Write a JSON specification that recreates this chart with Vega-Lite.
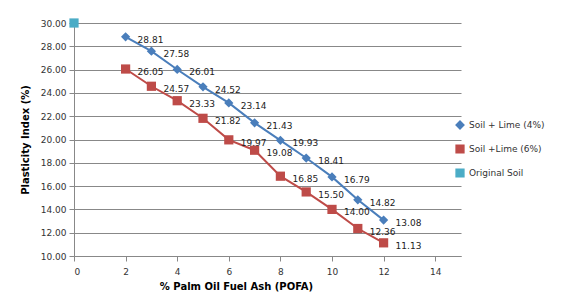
{
  "$schema": "https://vega.github.io/schema/vega-lite/v6.json",
  "width": 387,
  "height": 233,
  "autosize": {"type": "none"},
  "padding": {"left": 74, "top": 23, "right": 107, "bottom": 40},
  "background": "white",
  "config": {
    "view": {"stroke": null},
    "font": "DejaVu Sans",
    "axis": {"labelFont": "DejaVu Sans", "titleFont": "DejaVu Sans", "labelColor": "#333", "titleColor": "#000"}
  },
  "data": {
    "values": [
      {"series": "Soil + Lime (4%)", "x": 2, "y": 28.81},
      {"series": "Soil + Lime (4%)", "x": 3, "y": 27.58},
      {"series": "Soil + Lime (4%)", "x": 4, "y": 26.01},
      {"series": "Soil + Lime (4%)", "x": 5, "y": 24.52},
      {"series": "Soil + Lime (4%)", "x": 6, "y": 23.14},
      {"series": "Soil + Lime (4%)", "x": 7, "y": 21.43},
      {"series": "Soil + Lime (4%)", "x": 8, "y": 19.93},
      {"series": "Soil + Lime (4%)", "x": 9, "y": 18.41},
      {"series": "Soil + Lime (4%)", "x": 10, "y": 16.79},
      {"series": "Soil + Lime (4%)", "x": 11, "y": 14.82},
      {"series": "Soil + Lime (4%)", "x": 12, "y": 13.08},
      {"series": "Soil +Lime (6%)", "x": 2, "y": 26.05},
      {"series": "Soil +Lime (6%)", "x": 3, "y": 24.57},
      {"series": "Soil +Lime (6%)", "x": 4, "y": 23.33},
      {"series": "Soil +Lime (6%)", "x": 5, "y": 21.82},
      {"series": "Soil +Lime (6%)", "x": 6, "y": 19.97},
      {"series": "Soil +Lime (6%)", "x": 7, "y": 19.08},
      {"series": "Soil +Lime (6%)", "x": 8, "y": 16.85},
      {"series": "Soil +Lime (6%)", "x": 9, "y": 15.50},
      {"series": "Soil +Lime (6%)", "x": 10, "y": 14.00},
      {"series": "Soil +Lime (6%)", "x": 11, "y": 12.36},
      {"series": "Soil +Lime (6%)", "x": 12, "y": 11.13},
      {"series": "Original Soil", "x": 0, "y": 30.0}
    ]
  },
  "encoding": {
    "x": {
      "field": "x", "type": "quantitative",
      "scale": {"domain": [0, 15], "nice": false},
      "axis": {"values": [0, 2, 4, 6, 8, 10, 12, 14], "grid": false, "title": "% Palm Oil Fuel Ash (POFA)", "titleFontWeight": "bold", "titleFontSize": 10, "labelFontSize": 9, "domainColor": "#888", "tickColor": "#888", "tickSize": 5, "labelPadding": 6, "titlePadding": 5, "titleX": 162, "titleAnchor": "middle"}
    },
    "y": {
      "field": "y", "type": "quantitative",
      "scale": {"domain": [10, 30], "nice": false},
      "axis": {"values": [10, 12, 14, 16, 18, 20, 22, 24, 26, 28, 30], "format": ".2f", "title": "Plasticity Index (%)", "titleFontWeight": "bold", "titleFontSize": 10, "labelFontSize": 9, "gridColor": "#888", "gridWidth": 1, "domainColor": "#888", "tickColor": "#888", "tickSize": 5, "labelPadding": 3, "titlePadding": 10}
    },
    "color": {
      "field": "series", "type": "nominal",
      "scale": {"domain": ["Soil + Lime (4%)", "Soil +Lime (6%)", "Original Soil"], "range": ["#4A7EBB", "#BE4B48", "#4BACC6"]},
      "legend": {"title": null, "orient": "none", "legendX": 381, "legendY": 97, "labelFontSize": 9, "labelColor": "#333", "rowPadding": 10, "symbolSize": 60}
    },
    "shape": {
      "field": "series", "type": "nominal",
      "scale": {"domain": ["Soil + Lime (4%)", "Soil +Lime (6%)", "Original Soil"], "range": ["diamond", "square", "square"]},
      "legend": {"title": null, "orient": "none", "legendX": 381, "legendY": 97, "labelFontSize": 9, "labelColor": "#333", "rowPadding": 10, "symbolSize": 60}
    }
  },
  "layer": [
    {"mark": {"type": "line", "strokeWidth": 2}, "encoding": {"shape": {"value": null}}},
    {"mark": {"type": "point", "filled": true, "opacity": 1, "size": 85}},
    {
      "transform": [{"filter": "datum.series !== 'Original Soil'"}],
      "mark": {"type": "text", "align": "left", "dx": 12, "dy": 3, "fontSize": 9, "color": "#222"},
      "encoding": {"text": {"field": "y", "type": "quantitative", "format": ".2f"}, "color": {"value": "#222"}, "shape": {"value": null}}
    }
  ]
}
